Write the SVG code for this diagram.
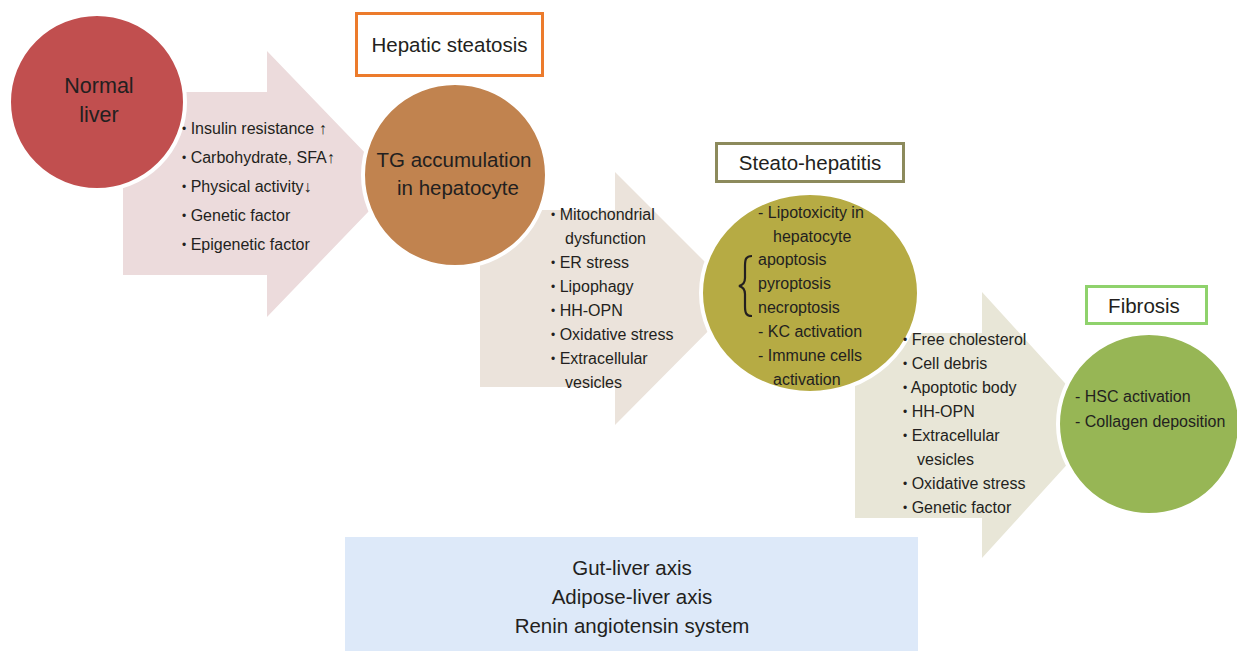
<svg xmlns="http://www.w3.org/2000/svg" width="1237" height="651" viewBox="0 0 1237 651">
<style>
text{font-family:"Liberation Sans",Arial,sans-serif;fill:#231f20}
.t{font-size:16px}
.h{font-size:20.5px}
.c{font-size:20.5px;text-anchor:middle}
.b{font-size:12px;baseline-shift:1.5px}
.circ{stroke:#ffffff;stroke-width:4}
.box{fill:#ffffff;stroke-width:3}
</style>
<rect width="1237" height="651" fill="#ffffff"/>
<g id="connectors">
<polygon id="arrow1" points="123,92 267,92 267,51 395,184 267,317 267,275 123,275" fill="#ecdbdc"/>
<polygon id="arrow2" points="480,210 615,210 615,172 741,298 615,425 615,387 480,387" fill="#ebe3db"/>
<polygon id="arrow3" points="855,333 982,333 982,292 1103,425 982,558 982,518 855,518" fill="#e8e6d7"/>
</g>
<g id="bottom-box">
<rect x="345" y="537" width="573" height="114" fill="#dde9f9"/>
<text class="c" x="632" y="575">Gut-liver axis</text>
<text class="c" x="632" y="604">Adipose-liver axis</text>
<text class="c" x="632" y="633">Renin angiotensin system</text>
</g>
<g id="normal-liver">
<circle class="circ" cx="97" cy="102" r="88" fill="#c14f4f"/>
<text class="c" x="99" y="93" style="font-size:21.5px">Normal</text>
<text class="c" x="99" y="122" style="font-size:21.5px">liver</text>
</g>
<g id="hepatic-steatosis-label">
<rect class="box" x="356.5" y="13.5" width="186" height="62" stroke="#ec7b2c"/>
<text class="c" x="449.5" y="52">Hepatic steatosis</text>
</g>
<g id="tg-accumulation">
<circle class="circ" cx="455" cy="175" r="92" fill="#c1834f"/>
<text class="c" x="454" y="167">TG accumulation</text>
<text class="c" x="458" y="195">in hepatocyte</text>
</g>
<g id="arrow1-labels">
<text class="t" x="182" y="134"><tspan class="b">•</tspan> Insulin resistance ↑</text>
<text class="t" x="182" y="163"><tspan class="b">•</tspan> Carbohydrate, SFA↑</text>
<text class="t" x="182" y="192"><tspan class="b">•</tspan> Physical activity↓</text>
<text class="t" x="182" y="221"><tspan class="b">•</tspan> Genetic factor</text>
<text class="t" x="182" y="250"><tspan class="b">•</tspan> Epigenetic factor</text>
</g>
<g id="arrow2-labels">
<text class="t" x="551" y="220"><tspan class="b">•</tspan> Mitochondrial</text>
<text class="t" x="565" y="244">dysfunction</text>
<text class="t" x="551" y="268"><tspan class="b">•</tspan> ER stress</text>
<text class="t" x="551" y="292"><tspan class="b">•</tspan> Lipophagy</text>
<text class="t" x="551" y="316"><tspan class="b">•</tspan> HH-OPN</text>
<text class="t" x="551" y="340"><tspan class="b">•</tspan> Oxidative stress</text>
<text class="t" x="551" y="364"><tspan class="b">•</tspan> Extracellular</text>
<text class="t" x="565" y="388">vesicles</text>
</g>
<g id="steatohepatitis-label">
<rect class="box" x="716.5" y="143.5" width="187" height="38" stroke="#8c8a5c"/>
<text class="c" x="810" y="170">Steato-hepatitis</text>
</g>
<g id="steatohepatitis">
<ellipse class="circ" cx="810" cy="293" rx="109" ry="100" fill="#b6ab44"/>
<text class="t" x="758" y="218">- Lipotoxicity in</text>
<text class="t" x="773" y="242">hepatocyte</text>
<path d="M752,256 C746,256 745,259 745,266 L745,278 C745,283 743,285 739,286 C743,287 745,289 745,294 L745,306 C745,313 746,316 752,316" fill="none" stroke="#231f20" stroke-width="2.2"/>
<text class="t" x="758" y="265">apoptosis</text>
<text class="t" x="758" y="289">pyroptosis</text>
<text class="t" x="758" y="313">necroptosis</text>
<text class="t" x="758" y="337">- KC activation</text>
<text class="t" x="758" y="361">- Immune cells</text>
<text class="t" x="773" y="385">activation</text>
</g>
<g id="arrow3-labels">
<text class="t" x="903" y="345"><tspan class="b">•</tspan> Free cholesterol</text>
<text class="t" x="903" y="369"><tspan class="b">•</tspan> Cell debris</text>
<text class="t" x="903" y="393"><tspan class="b">•</tspan> Apoptotic body</text>
<text class="t" x="903" y="417"><tspan class="b">•</tspan> HH-OPN</text>
<text class="t" x="903" y="441"><tspan class="b">•</tspan> Extracellular</text>
<text class="t" x="917" y="465">vesicles</text>
<text class="t" x="903" y="489"><tspan class="b">•</tspan> Oxidative stress</text>
<text class="t" x="903" y="513"><tspan class="b">•</tspan> Genetic factor</text>
</g>
<g id="fibrosis-label">
<rect class="box" x="1086.5" y="286.5" width="120" height="37" stroke="#8fd26c"/>
<text class="c" x="1144" y="313">Fibrosis</text>
</g>
<g id="fibrosis">
<circle class="circ" cx="1149" cy="424" r="91" fill="#97b655"/>
<text class="t" x="1075" y="402">- HSC activation</text>
<text class="t" x="1075" y="427">- Collagen deposition</text>
</g>
</svg>
